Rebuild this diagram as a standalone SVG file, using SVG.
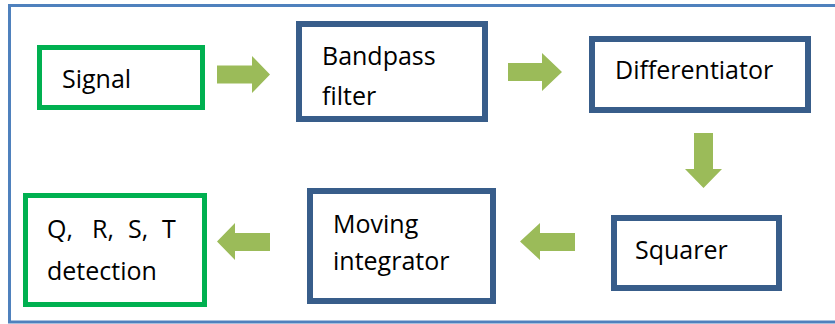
<svg xmlns="http://www.w3.org/2000/svg" width="835" height="324" viewBox="0 0 835 324">
  <style>
    .frame { fill: none; stroke: #4F81BD; stroke-width: 3; }
    .box-blue { fill: #FFFFFF; stroke: #385D8A; stroke-width: 6; }
    .box-green { fill: #FFFFFF; stroke: #00B050; stroke-width: 5; }
    .label { font-family: "Open Sans", "Liberation Sans", sans-serif; font-size: 25px; fill: #000000; }
    .arrow { fill: #9BBB59; stroke: none; }
  </style>
  <rect width="835" height="324" fill="#FFFFFF"/>
  <!-- outer frame, open to the right edge -->
  <rect class="frame" x="9.5" y="5.5" width="840" height="316.5"/>

  <g id="signal">
    <rect class="box-green" x="39.5" y="47.5" width="163" height="60"/>
    <text class="label" x="62" y="88">Signal</text>
  </g>
  <g id="bandpass">
    <rect class="box-blue" x="299" y="24" width="186" height="95"/>
    <text class="label" x="322" y="65">Bandpass</text>
    <text class="label" x="322" y="105">filter</text>
  </g>
  <g id="differentiator">
    <rect class="box-blue" x="592" y="39" width="216" height="71"/>
    <text class="label" x="615" y="79">Differentiator</text>
  </g>
  <g id="squarer">
    <rect class="box-blue" x="614" y="218" width="165" height="70"/>
    <text class="label" x="635" y="259">Squarer</text>
  </g>
  <g id="moving-integrator">
    <rect class="box-blue" x="310" y="191" width="183" height="110"/>
    <text class="label" x="333" y="233">Moving</text>
    <text class="label" x="333" y="270">integrator</text>
  </g>
  <g id="qrst-detection">
    <rect class="box-green" x="25.5" y="195.5" width="179" height="109"/>
    <text class="label" y="238"><tspan x="47">Q,</tspan><tspan x="92">R,</tspan><tspan x="128">S,</tspan><tspan x="162">T</tspan></text>
    <text class="label" x="47" y="280">detection</text>
  </g>

  <g id="connectors">
    <polygon class="arrow" points="217,65.5 252,65.5 252,56 270,74.5 252,93 252,83.5 217,83.5"/>
    <polygon class="arrow" points="508,63 542,63 542,53 562,72 542,91 542,81 508,81"/>
    <polygon class="arrow" points="694,133 713,133 713,169 722,169 703.5,188 685,169 694,169"/>
    <polygon class="arrow" points="575,233 540,233 540,223 520,241.5 540,260 540,251 575,251"/>
    <polygon class="arrow" points="270,233 235,233 235,223 217,241.5 235,260 235,251 270,251"/>
  </g>
</svg>
